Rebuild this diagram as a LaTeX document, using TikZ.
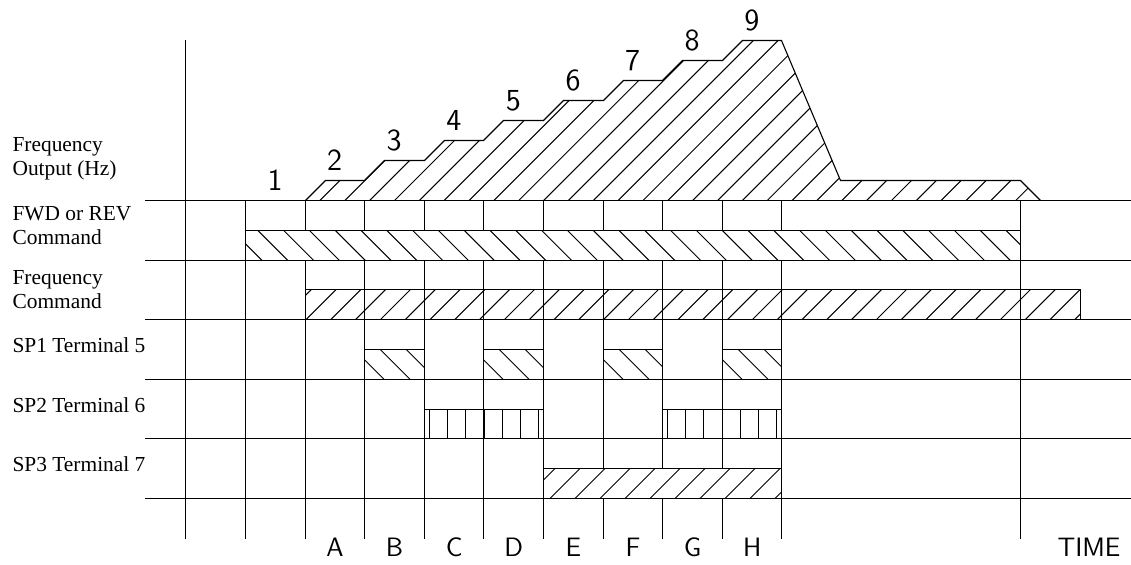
\documentclass[tikz,border=0pt]{standalone}
\usepackage{fontspec}
\setmainfont{Liberation Serif}
\newcommand{\hatchNE}[6]{% x1, ytop, x2, ybot, t0, step : "/" lines
  \begin{scope}
    \clip (#1,#2) rectangle (#3,#4);
    \pgfmathsetmacro{\hh}{(#4)-(#2)}
    \pgfmathsetmacro{\tz}{#5}
    \pgfmathtruncatemacro{\nn}{((#3)-(\tz))/(#6)+1}
    \foreach \i in {0,...,\nn} {\draw[hatch] ({\tz+\i*(#6)},#4) -- ++(\hh,-\hh);}
  \end{scope}}
\newcommand{\hatchNW}[6]{% x1, ytop, x2, ybot, t0, step : "\" lines
  \begin{scope}
    \clip (#1,#2) rectangle (#3,#4);
    \pgfmathsetmacro{\hh}{(#4)-(#2)}
    \pgfmathsetmacro{\tz}{#5}
    \pgfmathtruncatemacro{\nn}{((#3)-(\tz))/(#6)+1}
    \foreach \i in {0,...,\nn} {\draw[hatch] ({\tz+\i*(#6)},#2) -- ++(\hh,\hh);}
  \end{scope}}
\newcommand{\hatchV}[4]{% x1, ytop, x2, ybot : vertical lines
  \foreach \i in {0,...,6} {\draw[hatch] ({#1+4.6+\i*18.3},#2) -- ({#1+4.6+\i*18.3},#4);}}
\begin{document}
\begin{tikzpicture}[x=0.5pt,y=-0.5pt,line width=0.55pt,
  hatch/.style={line width=0.5pt},
  lbl/.style={anchor=base west,inner sep=0pt,font=\fontsize{10.7}{12}\selectfont},
  digit/.style={anchor=base,inner sep=0pt,font=\sffamily\fontsize{15.3}{15.3}\selectfont},
  tick/.style={anchor=base,inner sep=0pt,font=\sffamily\fontsize{13.3}{13.3}\selectfont},
  ]
\useasboundingbox (0,0) rectangle (1131,565);

% grid
\foreach \y in {200.5,260.5,319.5,379.5,438.5,498.5} \draw (145,\y) -- (1131,\y);
\draw (185.5,40.5) -- (185.5,539);
\foreach \x in {245.5,305.5,364.5,424.5,483.5,543.5,603.5,662.5,722.5,781.5,1020.5}
  \draw (\x,200.5) -- (\x,539);

% frequency output
\begin{scope}
  \clip (305.5,200.5) -- (325.5,180.5) -- (364.5,180.5) -- (384.5,160.5) -- (424.5,160.5) -- (444.5,140.5) -- (483.5,140.5) -- (503.5,120.5) -- (543.5,120.5) -- (563.5,100.5) -- (603.5,100.5) -- (623.5,80.5) -- (662.5,80.5) -- (682.5,60.5) -- (722.5,60.5) -- (742.5,40.5) -- (781.5,40.5) -- (840.5,180.5) -- (1020.5,180.5) -- (1040.5,200.5) -- cycle;
  \foreach \i in {0,...,36} {\draw[hatch] ({146+\i*24.85},200.5) -- ++(170,-170);}
\end{scope}
\draw (305.5,200.5) -- (325.5,180.5) -- (364.5,180.5) -- (384.5,160.5) -- (424.5,160.5) -- (444.5,140.5) -- (483.5,140.5) -- (503.5,120.5) -- (543.5,120.5) -- (563.5,100.5) -- (603.5,100.5) -- (623.5,80.5) -- (662.5,80.5) -- (682.5,60.5) -- (722.5,60.5) -- (742.5,40.5) -- (781.5,40.5) -- (840.5,180.5) -- (1020.5,180.5) -- (1040.5,200.5);

% FWD or REV command
\fill[white] (245.5,230.5) rectangle (1020.5,260.5);
\hatchNW{245.5}{230.5}{1020.5}{260.5}{206.3}{25.8}
\draw (245.5,230.5) rectangle (1020.5,260.5);

% Frequency command
\hatchNE{305.5}{289.5}{1080.5}{319.5}{281.3}{24.8}
\draw (305.5,289.5) rectangle (1080.5,319.5);

% SP1
\foreach \L/\R in {364.5/424.5,483.5/543.5,603.5/662.5,722.5/781.5} {
  \hatchNW{\L}{349.5}{\R}{379.5}{\L-36.3}{26}
  \draw (\L,349.5) rectangle (\R,379.5);
}

% SP2
\foreach \L/\R in {424.5/543.5,662.5/781.5} {
  \hatchV{\L}{409.5}{\R}{438.5}
  \draw (\L,409.5) rectangle (\R,438.5);
}

% SP3
\fill[white] (543.5,468.5) rectangle (781.5,498.5);
\hatchNE{543.5}{468.5}{781.5}{498.5}{525}{25}
\draw (543.5,468.5) rectangle (781.5,498.5);

% left labels
\node[lbl] (l1a) at (12,151.7) {Frequency};
\node[lbl] (l1b) at (12,175.2) {Output (Hz)};
\node[lbl] (l2a) at (12,220.7) {FWD or REV};
\node[lbl] (l2b) at (12,244.7) {Command};
\node[lbl] (l3a) at (12,285) {Frequency};
\node[lbl] (l3b) at (12,308.5) {Command};
\node[lbl] (l4) at (12,352.7) {SP1 Terminal 5};
\node[lbl] (l5) at (12,412.5) {SP2 Terminal 6};
\node[lbl] (l6) at (12,472) {SP3 Terminal 7};

% step numbers
\foreach \k in {1,...,9} {
  \node[digit] (d\k) at ({275+59.6*(\k-1)},{191-20*(\k-1)}) {\k};
}

% time letters
\foreach \c [count=\i from 0] in {A,B,C,D,E,F,G,H} {
  \node[tick] (t\c) at ({335+59.6*\i},557) {\c};
}
\node[tick] (time) at (1089,557) {TIME};
\end{tikzpicture}
\end{document}
